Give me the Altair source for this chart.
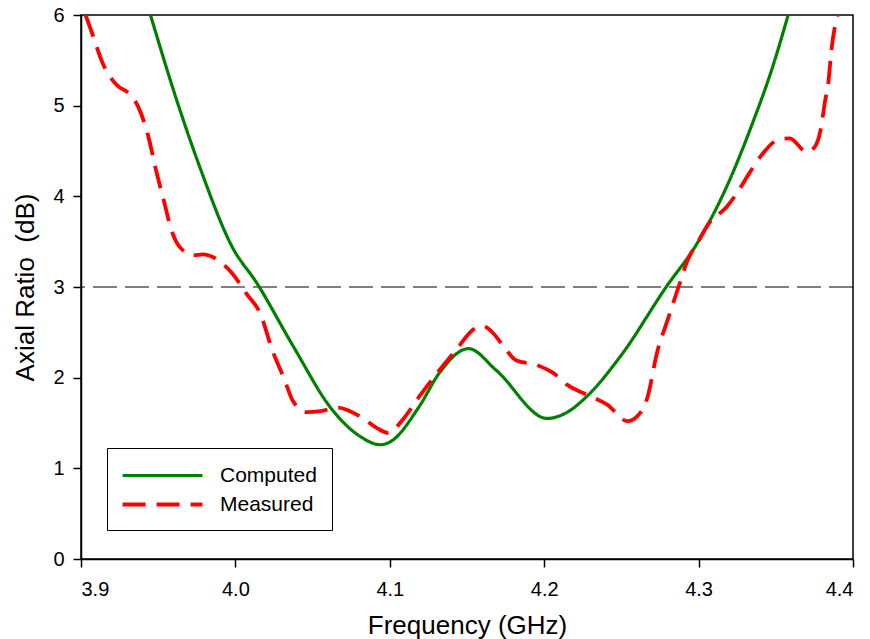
import altair as alt
import pandas as pd

# Computed (green, solid)
comp_f = [3.945, 3.962, 3.977, 3.998, 4.014, 4.037, 4.063, 4.081, 4.094, 4.100,
          4.119, 4.132, 4.151, 4.169, 4.202, 4.215, 4.228, 4.250, 4.279, 4.299,
          4.318, 4.335, 4.348, 4.358]
comp_ar = [6.0, 5.06, 4.32, 3.44, 3.04, 2.36, 1.64, 1.35, 1.26, 1.29,
           1.68, 2.05, 2.32, 2.08, 1.55, 1.62, 1.80, 2.25, 3.0, 3.48,
           4.10, 4.81, 5.43, 6.0]

# Measured (red, dashed)
meas_f = [3.903, 3.908, 3.914, 3.923, 3.932, 3.937, 3.943, 3.949, 3.954, 3.958, 3.964,
          3.973, 3.979, 3.990, 3.998, 4.007, 4.016, 4.024, 4.032, 4.037, 4.046, 4.055,
          4.066, 4.081, 4.092, 4.099, 4.109, 4.119, 4.132, 4.144, 4.154, 4.160, 4.167,
          4.173, 4.182, 4.195, 4.206, 4.215, 4.228, 4.241, 4.254, 4.260, 4.267, 4.273,
          4.280, 4.287, 4.293, 4.299, 4.307, 4.318, 4.325, 4.333, 4.342, 4.351, 4.359,
          4.370, 4.375, 4.379, 4.382, 4.384, 4.386, 4.390]
meas_ar = [6.0, 5.76, 5.47, 5.23, 5.12, 4.99, 4.70, 4.26, 3.93, 3.66, 3.44,
           3.35, 3.36, 3.28, 3.15, 2.93, 2.71, 2.30, 1.97, 1.75, 1.62, 1.63,
           1.67, 1.57, 1.44, 1.39, 1.55, 1.79, 2.08, 2.33, 2.53, 2.57, 2.49,
           2.36, 2.19, 2.14, 2.05, 1.92, 1.81, 1.70, 1.52, 1.57, 1.79, 2.27,
           2.64, 3.0, 3.30, 3.48, 3.71, 3.88, 4.04, 4.26, 4.48, 4.62, 4.64,
           4.49, 4.54, 4.73, 5.06, 5.25, 5.61, 6.0]

threshold = [3.0]
x_ticks = [3.9, 4.0, 4.1, 4.2, 4.3, 4.4]
y_ticks = [0, 1, 2, 3, 4, 5, 6]
series_names = ["Computed", "Measured"]

df = pd.concat([
    pd.DataFrame({"f": comp_f, "ar": comp_ar, "series": series_names[0]}),
    pd.DataFrame({"f": meas_f, "ar": meas_ar, "series": series_names[1]}),
])

xs = alt.Scale(domain=[3.9, 4.4], nice=False, zero=False)
ys = alt.Scale(domain=[0, 6], nice=False)

leg = alt.Legend(
    title=None, orient="none", legendX=26, legendY=433,
    strokeColor="black", padding=15, fillColor="white",
    labelFont="Liberation Sans", labelFontSize=21, labelColor="black",
    symbolType="M-3.8,0H3.8", symbolSize=441, symbolStrokeWidth=4,
    symbolOffset=28, labelOffset=45, rowPadding=6,
)

lines = alt.Chart(df).mark_line(interpolate="monotone", clip=True).encode(
    x=alt.X("f:Q", scale=xs, title="Frequency (GHz)",
            axis=alt.Axis(values=x_ticks, format=".1f")),
    y=alt.Y("ar:Q", scale=ys, title="Axial Ratio\u00a0\u00a0(dB)",
            axis=alt.Axis(values=y_ticks, format="d")),
    color=alt.Color("series:N", legend=leg,
                    scale=alt.Scale(domain=series_names, range=["#008000", "#ff0000"])),
    strokeDash=alt.StrokeDash("series:N", legend=leg,
                              scale=alt.Scale(domain=series_names, range=[[1, 0], [23, 11]])),
    strokeWidth=alt.StrokeWidth("series:N", legend=None,
                                scale=alt.Scale(domain=series_names, range=[3.2, 3.8])),
)

rule = alt.Chart(pd.DataFrame({"y": threshold})).mark_rule(
    color="black", strokeWidth=1.2, strokeDash=[24, 8]
).encode(y=alt.Y("y:Q", scale=ys))

chart = alt.layer(rule, lines).properties(
    width=772, height=544,
    padding={"left": 81, "top": 15, "right": 17, "bottom": 80},
    autosize=alt.AutoSizeParams(type="none"),
).configure_view(
    stroke="black", strokeWidth=1.5
).configure_axis(
    grid=False, domainColor="black", domainWidth=1.5, tickColor="black",
    tickSize=8, tickWidth=1.5, labelFont="Liberation Sans", labelFontSize=20,
    labelColor="black", titleFont="Liberation Sans", titleFontSize=26,
    titleFontWeight="normal", titleColor="black",
).configure_axisX(labelPadding=12, titlePadding=13).configure_axisY(labelPadding=9, titlePadding=14)

chart.save("out.html", embed_options={"renderer": "svg", "actions": False})
